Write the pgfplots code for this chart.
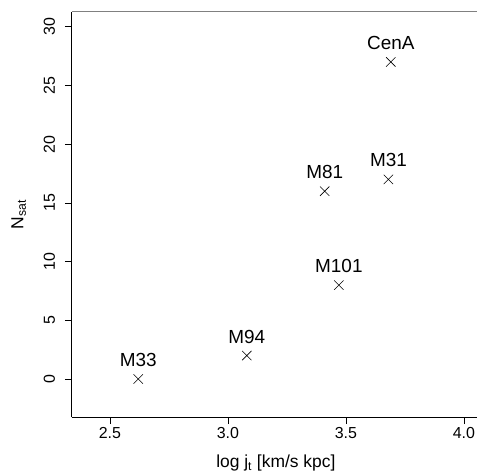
\documentclass[border=0pt]{standalone}
\usepackage{pgfplots}
\pgfplotsset{compat=1.18}
\usepackage{fontspec}
\setmainfont{Liberation Sans}
\newcommand{\tickf}{\fontsize{16}{19}\selectfont}
\newcommand{\labf}{\fontsize{17.5}{21}\selectfont}
\newcommand{\ptf}{\fontsize{19}{23}\selectfont}
\begin{document}
\begin{tikzpicture}[font=\tickf]
\begin{axis}[
  scale only axis,
  width=408.3bp, height=405.6bp,
  xmin=2.338, xmax=4.068,
  ymin=-3.26, ymax=31.28,
  axis x line*=bottom, axis y line*=left,
  axis line style={black, line width=0.6pt},
  tick align=outside,
  major tick length=6.7bp,
  tick style={black, line width=0.6pt},
  xtick={2.5,3.0,3.5,4.0},
  ytick={0,5,10,15,20,25,30},
  tick label style={font=\tickf},
  xticklabel style={/pgf/number format/.cd, fixed, fixed zerofill, precision=1},
  /pgf/number format/assume math mode=true,
  yticklabel style={xshift=-6.5bp, rotate=90, anchor=south},
  xlabel={log j\textsubscript{t} [km/s kpc]},
  ylabel={N\textsubscript{sat}},
  xlabel style={font=\labf, at={(axis description cs:0.5,-0.1243)}, anchor=base},
  ylabel style={font=\labf, at={(axis description cs:-0.1185,0.5)}, anchor=base},
  clip=false,
]
\addplot[only marks, mark=x, mark size=6.6bp, black, mark options={line width=0.6pt},
  nodes near coords, point meta=explicit symbolic,
  nodes near coords style={anchor=center, yshift=19bp, black, font=\ptf}]
  table[meta=label] {
x y label
2.62 0 M33
3.08 2 M94
3.47 8 M101
3.41 16 M81
3.68 17 M31
3.69 27 CenA
};
\draw[gray, line width=0.8pt] (rel axis cs:0,1) -- (rel axis cs:1,1);
\coordinate (bl) at (rel axis cs:0,0);
\coordinate (tr) at (rel axis cs:1,1);
\end{axis}
\pgfresetboundingbox
\path[use as bounding box] ([shift={(-71.7bp,-54.7bp)}]bl) rectangle ([shift={(-3bp,11.7bp)}]tr);
\end{tikzpicture}
\end{document}
